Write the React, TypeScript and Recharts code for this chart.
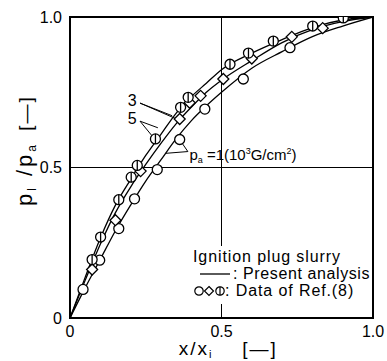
import React from 'react';
import {
  ComposedChart, Line, Scatter, XAxis, YAxis, ReferenceLine, ReferenceArea, ReferenceDot,
} from 'recharts';

// Present analysis curves
const curveX = [0, 0.05, 0.1, 0.15, 0.2, 0.25, 0.3, 0.35, 0.4, 0.45, 0.5, 0.6, 0.7, 0.8, 0.9, 1.0];
const curvePa5 = [0, 0.135, 0.265, 0.375, 0.46, 0.54, 0.61, 0.68, 0.735, 0.78, 0.825, 0.88, 0.925, 0.965, 0.99, 1.0];
const curvePa3 = [0, 0.125, 0.245, 0.35, 0.435, 0.51, 0.58, 0.645, 0.7, 0.75, 0.79, 0.855, 0.915, 0.958, 0.985, 1.0];
const curvePa1 = [0, 0.1, 0.195, 0.29, 0.375, 0.455, 0.525, 0.595, 0.655, 0.705, 0.75, 0.83, 0.885, 0.935, 0.97, 1.0];

// Data of Ref.(8)
const pa1X = [0.043, 0.098, 0.161, 0.213, 0.288, 0.362, 0.445, 0.572, 0.726];
const pa1Y = [0.095, 0.192, 0.297, 0.396, 0.493, 0.593, 0.694, 0.794, 0.898];
const pa3X = [0.073, 0.15, 0.233, 0.362, 0.395, 0.431, 0.506, 0.6, 0.732, 0.834];
const pa3Y = [0.161, 0.325, 0.488, 0.661, 0.715, 0.738, 0.794, 0.862, 0.934, 0.963];
const pa5X = [0.073, 0.101, 0.161, 0.202, 0.222, 0.282, 0.365, 0.39, 0.528, 0.589, 0.671, 0.801, 0.902];
const pa5Y = [0.194, 0.269, 0.393, 0.468, 0.507, 0.595, 0.70, 0.733, 0.843, 0.88, 0.92, 0.97, 0.997];

const xTicks = [0, 0.5, 1];
const xTickLabels = ['0', '0.5', '1.0'];
const yTicks = [0, 0.5, 1];
const yTickLabels = ['0', '0.5', '1.0'];

const toPts = (xs: number[], ys: number[]) => xs.map((x, i) => ({ x, y: ys[i] }));

const FONT = '"Liberation Sans", Arial, sans-serif';

const OpenCircle = (p: any) => (
  <circle cx={p.cx} cy={p.cy} r={5} fill="#fff" stroke="#000" strokeWidth={1.3} />
);
const Diamond = (p: any) => (
  <path d={`M${p.cx},${p.cy - 5.5} L${p.cx + 5.5},${p.cy} L${p.cx},${p.cy + 5.5} L${p.cx - 5.5},${p.cy} Z`} fill="#fff" stroke="#000" strokeWidth={1.3} />
);
const BarCircle = (p: any) => (
  <g>
    <circle cx={p.cx} cy={p.cy} r={5} fill="#fff" stroke="#000" strokeWidth={1.3} />
    <line x1={p.cx} y1={p.cy - 5} x2={p.cx} y2={p.cy + 5} stroke="#000" strokeWidth={1.3} />
  </g>
);

const LegendBox = () => (
  <div style={{ position: 'absolute', left: 190, top: 246, background: '#fff', fontFamily: FONT, fontSize: 16, letterSpacing: 0.9, color: '#000', lineHeight: '17px', padding: '2px 0 5px 3px' }}>
    <div style={{ whiteSpace: 'nowrap' }}>Ignition plug slurry</div>
    <div style={{ whiteSpace: 'nowrap', display: 'flex', alignItems: 'center', letterSpacing: 0.6 }}>
      <svg width={40} height={12}><line x1={7} y1={6} x2={37} y2={6} stroke="#000" strokeWidth={1.3} /></svg>
      <span>: Present analysis</span>
    </div>
    <div style={{ whiteSpace: 'nowrap', display: 'flex', alignItems: 'center', letterSpacing: 0.9 }}>
      <svg width={32} height={12}>
        <circle cx={6} cy={6} r={4.2} fill="#fff" stroke="#000" strokeWidth={1.2} />
        <path d="M16,1.5 L20.5,6 L16,10.5 L11.5,6 Z" fill="#fff" stroke="#000" strokeWidth={1.2} />
        <circle cx={27} cy={6} r={4.2} fill="#fff" stroke="#000" strokeWidth={1.2} />
        <line x1={27} y1={1.8} x2={27} y2={10.2} stroke="#000" strokeWidth={1.2} />
      </svg>
      <span>: Data of Ref.(8)</span>
    </div>
  </div>
);

const textLabel = (node: (x: number, y: number) => React.ReactNode) => (props: any) => {
  const vb = props.viewBox || {};
  return node(vb.x, vb.y);
};

export default function App() {
  const c5 = toPts(curveX, curvePa5);
  const c3 = toPts(curveX, curvePa3);
  const c1 = toPts(curveX, curvePa1);
  return (
    <div style={{ position: 'absolute', left: 0, top: 0, width: 387, height: 361 }}>
      <ComposedChart width={387} height={361} margin={{ top: 17, right: 14, bottom: 13, left: 10 }}>
        <XAxis
          type="number" dataKey="x" domain={[0, 1]} ticks={xTicks} height={30}
          tickFormatter={(v: number) => xTickLabels[xTicks.indexOf(v)]}
          tick={{ fill: '#000', fontSize: 16, fontFamily: FONT }} tickLine={false} axisLine={false}
          allowDataOverflow
          label={{
            content: () => (
              <g fontFamily={FONT} fill="#000">
                <text x={196} y={355} fontSize={19} letterSpacing={2} textAnchor="middle">
                  x/x<tspan fontSize={11} dy={3}>i</tspan>
                </text>
                <text x={260} y={355} fontSize={19} letterSpacing={2} textAnchor="middle">[{'\u2014'}]</text>
              </g>
            ),
          }}
        />
        <YAxis
          type="number" domain={[0, 1]} ticks={yTicks} width={60}
          tickFormatter={(v: number) => yTickLabels[yTicks.indexOf(v)]}
          tick={{ fill: '#000', fontSize: 16, fontFamily: FONT }} tickLine={false} axisLine={false}
          allowDataOverflow
          label={{
            content: () => (
              <g fontFamily={FONT} fill="#000">
                <text x={0} y={0} transform="translate(32,174) rotate(-90)" fontSize={22} letterSpacing={3} textAnchor="middle">
                  p<tspan fontSize={12} dy={4}>l</tspan><tspan dy={-4}> /p</tspan><tspan fontSize={12} dy={4}>a</tspan>
                </text>
                <text x={0} y={0} transform="translate(32,113) rotate(-90)" fontSize={19} letterSpacing={2} textAnchor="middle">[{'\u2014'}]</text>
              </g>
            ),
          }}
        />
        <ReferenceLine x={0.5} stroke="#000" strokeWidth={1} />
        <ReferenceLine y={0.5} stroke="#000" strokeWidth={1} />
        <ReferenceArea x1={0} x2={1} y1={0} y2={1} fill="none" fillOpacity={0} stroke="#000" strokeWidth={2} />

        <Line data={c5} dataKey="y" type="monotone" stroke="#000" strokeWidth={1.3} dot={false} isAnimationActive={false} />
        <Line data={c3} dataKey="y" type="monotone" stroke="#000" strokeWidth={1.3} dot={false} isAnimationActive={false} />
        <Line data={c1} dataKey="y" type="monotone" stroke="#000" strokeWidth={1.3} dot={false} isAnimationActive={false} />

        <ReferenceLine segment={[{ x: 0.231, y: 0.714 }, { x: 0.337, y: 0.672 }]} stroke="#000" strokeWidth={1} />
        <ReferenceLine segment={[{ x: 0.231, y: 0.714 }, { x: 0.35, y: 0.662 }]} stroke="#000" strokeWidth={1} />
        <ReferenceLine segment={[{ x: 0.231, y: 0.654 }, { x: 0.29, y: 0.632 }]} stroke="#000" strokeWidth={1} />
        <ReferenceLine segment={[{ x: 0.231, y: 0.654 }, { x: 0.275, y: 0.6 }]} stroke="#000" strokeWidth={1} />
        <ReferenceLine segment={[{ x: 0.389, y: 0.553 }, { x: 0.315, y: 0.547 }]} stroke="#000" strokeWidth={1} />
        <ReferenceLine segment={[{ x: 0.389, y: 0.553 }, { x: 0.365, y: 0.588 }]} stroke="#000" strokeWidth={1} />

        <Scatter data={toPts(pa1X, pa1Y)} dataKey="y" shape={OpenCircle} isAnimationActive={false} />
        <Scatter data={toPts(pa3X, pa3Y)} dataKey="y" shape={Diamond} isAnimationActive={false} />
        <Scatter data={toPts(pa5X, pa5Y)} dataKey="y" shape={BarCircle} isAnimationActive={false} />

        <ReferenceDot x={0.205} y={0.724} r={0} fill="none" stroke="none"
          label={{ content: textLabel((x, y) => <text x={x} y={y + 6} fontFamily={FONT} fontSize={16} textAnchor="middle" fill="#000">3</text>) }} />
        <ReferenceDot x={0.205} y={0.664} r={0} fill="none" stroke="none"
          label={{ content: textLabel((x, y) => <text x={x} y={y + 6} fontFamily={FONT} fontSize={16} textAnchor="middle" fill="#000">5</text>) }} />
        <ReferenceDot x={0.394} y={0.545} r={0} fill="none" stroke="none"
          label={{ content: textLabel((x, y) => (
            <text x={x} y={y + 6} fontFamily={FONT} fontSize={15} fill="#000">
              p<tspan fontSize={9} dy={3}>a</tspan><tspan dy={-3}> =1(10</tspan><tspan fontSize={9} dy={-6}>3</tspan><tspan dy={6}>G/cm</tspan><tspan fontSize={9} dy={-6}>2</tspan><tspan dy={6}>)</tspan>
            </text>
          )) }} />
      </ComposedChart>
      <LegendBox />
    </div>
  );
}
